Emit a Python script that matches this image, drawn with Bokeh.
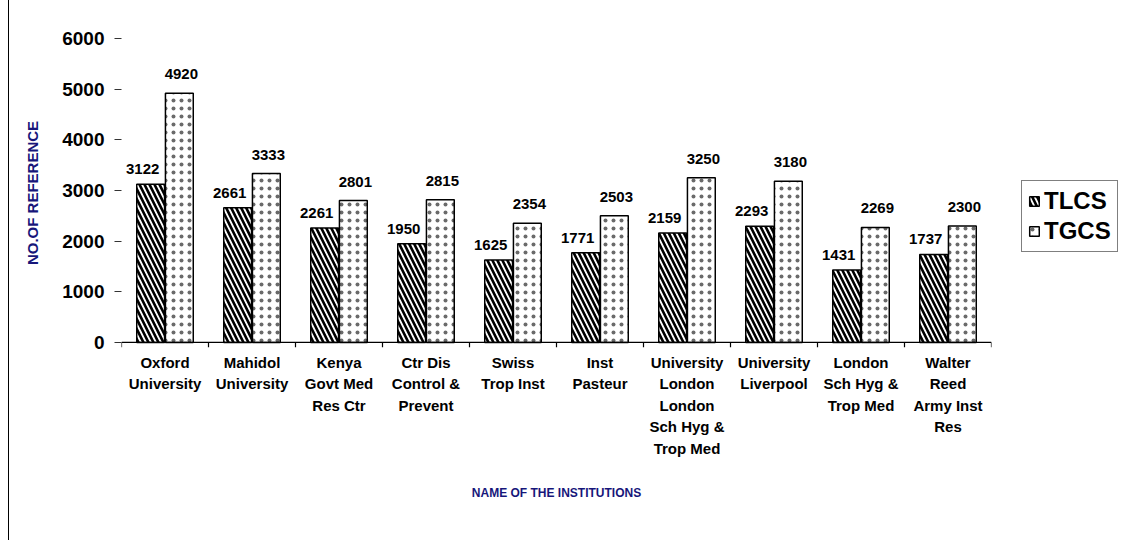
from bokeh.plotting import figure
from bokeh.models import (FactorRange, Range1d, Legend, LegendItem, Span,
                          ColumnDataSource, SingleIntervalTicker)
from bokeh.layouts import row
from bokeh.transform import dodge
from bokeh.core.properties import value
from bokeh.embed import file_html
from bokeh.resources import INLINE

institutions = [
    "Oxford\nUniversity",
    "Mahidol\nUniversity",
    "Kenya\nGovt Med\nRes Ctr",
    "Ctr Dis\nControl &\nPrevent",
    "Swiss\nTrop Inst",
    "Inst\nPasteur",
    "University\nLondon\nLondon\nSch Hyg &\nTrop Med",
    "University\nLiverpool",
    "London\nSch Hyg &\nTrop Med",
    "Walter\nReed\nArmy Inst\nRes",
]
tlcs = [3122, 2661, 2261, 1950, 1625, 1771, 2159, 2293, 1431, 1737]
tgcs = [4920, 3333, 2801, 2815, 2354, 2503, 3250, 3180, 2269, 2300]
series_names = ["TLCS", "TGCS"]
y_ticks_step = 1000

FONT = "Liberation Sans"
NAVY = "#16167a"
TLCS_STYLE = dict(fill_color="white", line_color="black", line_width=1.5,
                  hatch_pattern="\\", hatch_color="black", hatch_weight=2.6, hatch_scale=10)
TGCS_STYLE = dict(fill_color="white", line_color="black", line_width=1.5,
                  hatch_pattern=".", hatch_color="#6a6a6a", hatch_weight=0.5, hatch_scale=8)

src = ColumnDataSource(dict(
    inst=institutions, tlcs=tlcs, tgcs=tgcs,
    tlcs_lbl=[str(v) for v in tlcs], tgcs_lbl=[str(v) for v in tgcs],
))

p = figure(x_range=FactorRange(factors=institutions, range_padding=0),
           y_range=Range1d(-100, 6000),
           width=1000, height=540, output_backend="svg", toolbar_location=None,
           min_border_left=112, min_border_right=18, min_border_top=38,
           min_border_bottom=193)
p.outline_line_color = None
p.xgrid.grid_line_color = None
p.ygrid.grid_line_color = None

bw = 0.32
r1 = p.vbar(x=dodge("inst", -0.165, range=p.x_range), top="tlcs", width=bw, source=src,
            **TLCS_STYLE)
r2 = p.vbar(x=dodge("inst", 0.165, range=p.x_range), top="tgcs", width=bw, source=src,
            **TGCS_STYLE)

p.text(x=dodge("inst", -0.165, range=p.x_range), y="tlcs", text="tlcs_lbl", source=src,
       x_offset=-8, y_offset=-15, text_align="center", text_baseline="middle",
       text_font=value(FONT), text_font_style="bold", text_font_size="15px", text_color="black")
p.text(x=dodge("inst", 0.165, range=p.x_range), y="tgcs", text="tgcs_lbl", source=src,
       x_offset=2, y_offset=-19, text_align="center", text_baseline="middle",
       text_font=value(FONT), text_font_style="bold", text_font_size="15px", text_color="black")

# baseline and category boundary ticks
p.add_layout(Span(location=0, dimension="width", line_color="black", line_width=1.2))
p.segment(x0=dodge("inst", -0.5, range=p.x_range), y0=0,
          x1=dodge("inst", -0.5, range=p.x_range), y1=-100,
          source=src, line_color="black", line_width=1.2)
end_src = ColumnDataSource(dict(inst=institutions[-1:]))
p.segment(x0=dodge("inst", 0.5, range=p.x_range), y0=0,
          x1=dodge("inst", 0.5, range=p.x_range), y1=-100,
          source=end_src, line_color="black", line_width=1.2)

# y axis
yax = p.yaxis[0]
yax.ticker = SingleIntervalTicker(interval=y_ticks_step)
yax.axis_line_color = None
yax.major_tick_in = 0
yax.major_tick_out = 7
yax.major_tick_line_color = "#333333"
yax.minor_tick_line_color = None
yax.major_label_standoff = 10
yax.major_label_text_font = FONT
yax.major_label_text_font_style = "bold"
yax.major_label_text_font_size = "19px"
yax.major_label_text_color = "black"
yax.axis_label = "NO.OF REFERENCE"
yax.axis_label_text_font = FONT
yax.axis_label_text_font_style = "bold"
yax.axis_label_text_font_size = "15px"
yax.axis_label_text_color = NAVY
yax.axis_label_standoff = 18

# x axis
xax = p.xaxis[0]
xax.axis_line_color = None
xax.major_tick_line_color = None
xax.minor_tick_line_color = None
xax.major_label_standoff = 0
xax.major_label_text_font = FONT
xax.major_label_text_font_style = "bold"
xax.major_label_text_font_size = "15px"
xax.major_label_text_color = "black"
xax.major_label_text_line_height = 1.27
xax.axis_label = "NAME OF THE INSTITUTIONS"
xax.axis_label_text_font = FONT
xax.axis_label_text_font_style = "bold"
xax.axis_label_text_font_size = "12px"
xax.axis_label_text_color = NAVY
xax.axis_label_standoff = 26

# legend panel (separate small figure to the right); hidden proxy bars give the swatches
pl = figure(width=113, height=540, output_backend="svg", toolbar_location=None,
            x_range=Range1d(0, 1), y_range=Range1d(0, 1),
            x_axis_location=None, y_axis_location=None,
            min_border_left=0, min_border_right=0, min_border_top=0, min_border_bottom=0)
pl.outline_line_color = None
pl.grid.grid_line_color = None
proxy = ColumnDataSource(dict(x=[0.5], top=[0.5]))
l1 = pl.vbar(x="x", top="top", width=0.1, source=proxy, visible=False, **TLCS_STYLE)
l2 = pl.vbar(x="x", top="top", width=0.1, source=proxy, visible=False, **TGCS_STYLE)

legend = Legend(items=[LegendItem(label=series_names[0], renderers=[l1]),
                       LegendItem(label=series_names[1], renderers=[l2])],
                location=(12, 95), orientation="vertical",
                label_text_font=FONT, label_text_font_style="bold",
                label_text_font_size="24px", label_text_color="black",
                glyph_width=12, glyph_height=12, label_standoff=4,
                spacing=2, padding=6, margin=0,
                border_line_color="black", border_line_width=1,
                background_fill_color="white", background_fill_alpha=1)
pl.add_layout(legend, "center")

lay = row(p, pl)
lay.styles = {"margin-left": "8px", "border-left": "1px solid #000"}

open("out.html", "w").write(file_html(lay, INLINE))
